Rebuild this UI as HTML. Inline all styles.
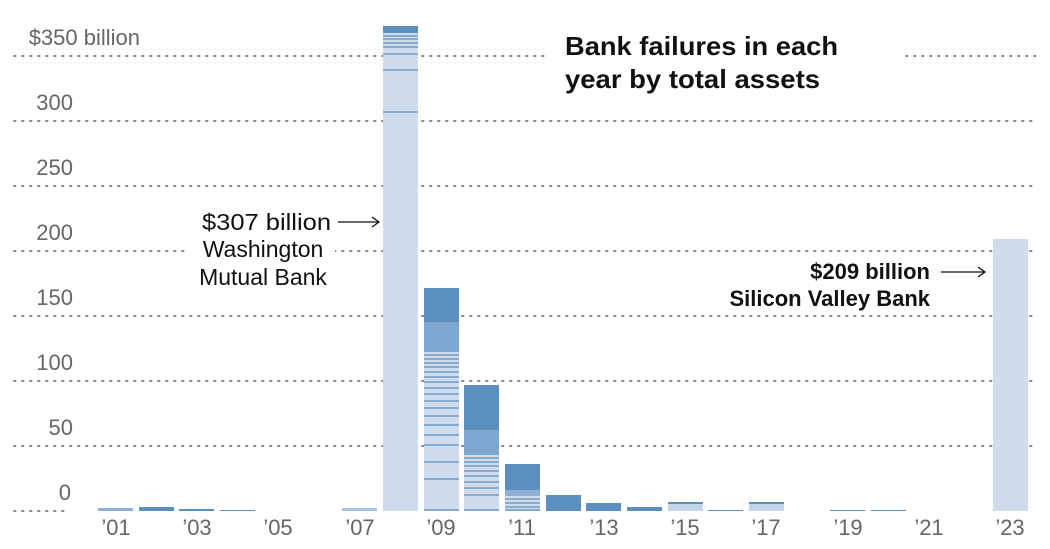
<!DOCTYPE html>
<html><head><meta charset="utf-8"><style>
html,body{margin:0;padding:0;background:#fff}
svg{display:block}
text{font-family:"Liberation Sans",sans-serif}
</style></head><body>
<svg width="1050" height="549" viewBox="0 0 1050 549">
<g stroke="#888" stroke-width="2" stroke-dasharray="1.5,6.5" stroke-linecap="round">
<line x1="14" y1="56" x2="545" y2="56"/><line x1="906" y1="56" x2="1036" y2="56"/>
<line x1="14" y1="121" x2="1036" y2="121"/>
<line x1="14" y1="186" x2="1036" y2="186"/>
<line x1="14" y1="251" x2="1036" y2="251"/>
<line x1="14" y1="316" x2="1036" y2="316"/>
<line x1="14" y1="381" x2="1036" y2="381"/>
<line x1="14" y1="446" x2="1036" y2="446"/>
<line x1="14" y1="511" x2="66" y2="511"/>
</g>
<g fill="#666" font-size="22" text-anchor="end">
<text x="140" y="45" text-anchor="end">$350 billion</text>
<text x="73" y="110">300</text><text x="73" y="175">250</text><text x="73" y="240">200</text>
<text x="73" y="305">150</text><text x="73" y="370">100</text><text x="73" y="435">50</text><text x="71" y="500">0</text>
</g>
<g fill="#5a8fc0">
<rect x="98" y="508" width="35" height="3" fill="#8fb0d4"/>
<rect x="139" y="507" width="35" height="4"/>
<rect x="179" y="509" width="35" height="2"/>
<rect x="220" y="510" width="35" height="1"/>
<rect x="342" y="508" width="35" height="3" fill="#a9c0de"/>
<rect x="586" y="503" width="35" height="8"/>
<rect x="627" y="507" width="35" height="4"/>
<rect x="668" y="502" width="35" height="9" fill="#c4d4e8"/><rect x="668" y="502" width="35" height="2"/>
<rect x="708" y="510" width="35" height="1"/>
<rect x="749" y="502" width="35" height="9" fill="#c4d4e8"/><rect x="749" y="502" width="35" height="2"/>
<rect x="830" y="510" width="35" height="1"/>
<rect x="871" y="510" width="35" height="1"/>
<rect x="546" y="495" width="35" height="16"/>
</g>
<rect x="383" y="26" width="35" height="485" fill="#d0dcec"/>
<rect x="383" y="26" width="35" height="7" fill="#5a8fc0"/>
<g stroke="#5a8fc0" stroke-width="1.2">
<line x1="383" y1="36" x2="418" y2="36"/><line x1="383" y1="39" x2="418" y2="39"/><line x1="383" y1="43" x2="418" y2="43"/>
<line x1="383" y1="47" x2="418" y2="47"/><line x1="383" y1="54" x2="418" y2="54"/><line x1="383" y1="70" x2="418" y2="70"/>
<line x1="383" y1="112" x2="418" y2="112"/>
</g>
<rect x="424" y="288" width="35" height="223" fill="#d0dcec"/>
<rect x="424" y="288" width="35" height="34" fill="#5a8fc0"/>
<rect x="424" y="322" width="35" height="30" fill="#7fa6d0"/>
<g stroke="#5a8fc0" stroke-width="1.3">
<line x1="424" y1="355" x2="459" y2="355"/><line x1="424" y1="359" x2="459" y2="359"/><line x1="424" y1="363" x2="459" y2="363"/>
<line x1="424" y1="367" x2="459" y2="367"/><line x1="424" y1="372" x2="459" y2="372"/><line x1="424" y1="377" x2="459" y2="377"/>
<line x1="424" y1="382" x2="459" y2="382"/><line x1="424" y1="388" x2="459" y2="388"/><line x1="424" y1="394" x2="459" y2="394"/>
<line x1="424" y1="401" x2="459" y2="401"/><line x1="424" y1="408" x2="459" y2="408"/><line x1="424" y1="416" x2="459" y2="416"/>
<line x1="424" y1="425" x2="459" y2="425"/><line x1="424" y1="435" x2="459" y2="435"/><line x1="424" y1="445" x2="459" y2="445"/>
<line x1="424" y1="462" x2="459" y2="462"/><line x1="424" y1="479" x2="459" y2="479"/><line x1="424" y1="510" x2="459" y2="510"/>
</g>
<rect x="464" y="385" width="35" height="126" fill="#d0dcec"/>
<rect x="464" y="385" width="35" height="45" fill="#5a8fc0"/>
<rect x="464" y="430" width="35" height="25" fill="#7fa6d0"/>
<g stroke="#5a8fc0" stroke-width="1.3">
<line x1="464" y1="458" x2="499" y2="458"/><line x1="464" y1="462" x2="499" y2="462"/><line x1="464" y1="466" x2="499" y2="466"/>
<line x1="464" y1="471" x2="499" y2="471"/><line x1="464" y1="476" x2="499" y2="476"/><line x1="464" y1="482" x2="499" y2="482"/>
<line x1="464" y1="488" x2="499" y2="488"/><line x1="464" y1="495" x2="499" y2="495"/><line x1="464" y1="510" x2="499" y2="510"/>
</g>
<rect x="505" y="464" width="35" height="47" fill="#d0dcec"/>
<rect x="505" y="464" width="35" height="26" fill="#5a8fc0"/>
<rect x="505" y="490" width="35" height="6" fill="#8fb0d4"/>
<g stroke="#5a8fc0" stroke-width="1.2">
<line x1="505" y1="499" x2="540" y2="499"/><line x1="505" y1="503" x2="540" y2="503"/><line x1="505" y1="507" x2="540" y2="507"/><line x1="505" y1="510" x2="540" y2="510"/>
</g>
<rect x="993" y="239" width="35" height="272" fill="#d0dcec"/>
<g fill="#666" font-size="22" text-anchor="middle">
<text x="116" y="535">’01</text><text x="197" y="535">’03</text><text x="278" y="535">’05</text>
<text x="360" y="535">’07</text><text x="441" y="535">’09</text><text x="522" y="535">’11</text>
<text x="604" y="535">’13</text><text x="685" y="535">’15</text><text x="766" y="535">’17</text>
<text x="848" y="535">’19</text><text x="929" y="535">’21</text><text x="1010" y="535">’23</text>
</g>
<text x="565" y="55" font-size="26" font-weight="bold" fill="#111" textLength="273" lengthAdjust="spacingAndGlyphs">Bank failures in each</text>
<text x="565" y="88" font-size="26" font-weight="bold" fill="#111" textLength="255" lengthAdjust="spacingAndGlyphs">year by total assets</text>
<rect x="185" y="205" width="150" height="90" fill="#fff"/>
<text x="202" y="230" font-size="23" fill="#111" textLength="129" lengthAdjust="spacingAndGlyphs">$307 billion</text>
<g font-size="23" fill="#111" text-anchor="middle">
<text x="263" y="257">Washington</text><text x="263" y="285">Mutual Bank</text>
</g>
<line x1="338" y1="222" x2="378" y2="222" stroke="#111" stroke-width="1.3"/>
<path d="M372,217 L379,222 L372,227" fill="none" stroke="#111" stroke-width="1.3"/>
<rect x="712" y="255" width="222" height="55" fill="#fff"/>
<g font-size="22" fill="#111" font-weight="bold" text-anchor="end">
<text x="930" y="279">$209 billion</text><text x="930" y="306">Silicon Valley Bank</text>
</g>
<line x1="941" y1="272" x2="984" y2="272" stroke="#111" stroke-width="1.3"/>
<path d="M978,267 L985,272 L978,277" fill="none" stroke="#111" stroke-width="1.3"/>
</svg>
</body></html>
